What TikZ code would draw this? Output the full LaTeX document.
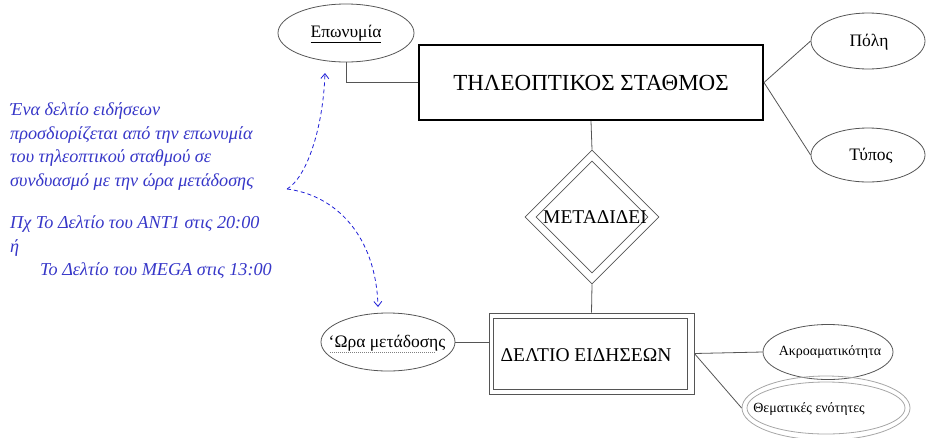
\documentclass[tikz,border=0pt]{standalone}
\usepackage{fontspec}
\setmainfont{Liberation Serif}
\usetikzlibrary{shapes.geometric,arrows.meta}
\definecolor{ln}{RGB}{85,85,85}
\definecolor{nb}{RGB}{55,55,200}
\definecolor{ab}{RGB}{30,30,215}
\begin{document}
\begin{tikzpicture}[x=1pt,y=-1pt,
  attr/.style={ellipse, draw=ln, line width=0.8pt, inner sep=0pt},
  big/.style={font=\fontsize{17.5}{19}\selectfont},
  small/.style={font=\fontsize{14}{16}\selectfont},
  conn/.style={draw=ln, line width=0.8pt},
  blu/.style={draw=ab, line width=0.8pt, dash pattern=on 4pt off 3pt, -{Straight Barb[length=5pt,width=8pt]}}]
\useasboundingbox (0,0) rectangle (931,437);

% entity: station
\node[draw=black, line width=2pt, minimum width=344pt, minimum height=75pt, inner sep=0pt,
      font=\fontsize{23}{27}\selectfont] (st) at (591,82.5) {ΤΗΛΕΟΠΤΙΚΟΣ ΣΤΑΘΜΟΣ};

% attributes of station
\node[attr, minimum width=136pt, minimum height=58pt] (ep) at (346,33) {};
\node[big, inner sep=0pt] (ept) at (346,34) {\underline{Επωνυμία}};
\node[attr, minimum width=114pt, minimum height=56pt] (po) at (868,41) {};
\node[big, inner sep=0pt] (pot) at (869,42) {Πόλη};
\node[attr, minimum width=114pt, minimum height=54pt] (ty) at (868,155) {};
\node[big, inner sep=0pt] (tyt) at (871,156) {Τύπος};

% relationship
\node[diamond, draw=ln, line width=0.8pt, minimum width=134pt, minimum height=134pt, inner sep=0pt] (md) at (592,217) {};
\node[diamond, draw=ln, line width=0.8pt, minimum width=112pt, minimum height=112pt, inner sep=0pt] (mi) at (592,217) {};
\node[font=\fontsize{19.5}{21}\selectfont, inner sep=0pt] (mt) at (595,217) {ΜΕΤΑΔΙΔΕΙ};

% weak entity
\node[draw=ln, line width=0.8pt, minimum width=205pt, minimum height=81pt, inner sep=0pt] (dl) at (591.5,353.5) {};
\draw[ln, line width=0.8pt] ([shift={(5,6)}]dl.north west) rectangle ([shift={(-7,-5)}]dl.south east);
\node[font=\fontsize{19.5}{21}\selectfont, inner sep=0pt] (dt) at (586,355) {ΔΕΛΤΙΟ ΕΙΔΗΣΕΩΝ};

% attributes of news bulletin
\node[attr, minimum width=134pt, minimum height=58pt] (wr) at (388,342) {};
\node[big, inner sep=0pt] (wrt) at (387,343) {‘Ωρα μετάδοσης};
\draw[gray, line width=0.6pt, dash pattern=on 0.8pt off 1.2pt] ([xshift=-58pt,yshift=-10pt]wr.center) -- ([xshift=47pt,yshift=-10pt]wr.center);
\node[attr, minimum width=130pt, minimum height=55pt] (ak) at (828,352) {};
\node[small, inner sep=0pt] (akt) at (830,352) {Ακροαματικότητα};
\node[attr, draw=gray!70, minimum width=168pt, minimum height=64pt] (th) at (826,408) {};
\draw[gray!70, line width=0.8pt] (th.center) ellipse [x radius=79, y radius=26];
\node[small, inner sep=0pt] (tt) at (809,409) {Θεματικές ενότητες};

% connectors
\draw[conn] (ep.south) |- (st.west);
\draw[conn] (st.east) -- (po.west);
\draw[conn] (st.east) -- (ty.west);
\draw[conn] (st.south) -- (md.north);
\draw[conn] (md.south) -- (dl.north);
\draw[conn] (wr.east) -- (wr.east -| dl.west);
\draw[conn] (dl.east) -- (ak.west);
\draw[conn] (dl.east) -- (th.west);

% note
\node[anchor=north west, align=left, text=nb, inner sep=0pt,
      font=\itshape\fontsize{18.2}{23.5}\selectfont] (nt) at (10,102.5)
  {Ένα δελτίο ειδήσεων\\
   προσδιορίζεται από την επωνυμία\\
   του τηλεοπτικού σταθμού σε\\
   συνδυασμό με την ώρα μετάδοσης\\[19pt]
   Πχ Το Δελτίο του ΑΝΤ1 στις 20:00\\
   ή\\
   \hspace*{30pt}Το Δελτίο του MEGA στις 13:00};

\coordinate (c0) at (287,189);
\coordinate (a1) at (325,73);
\coordinate (a2) at (378,307);
\draw[blu] (c0) .. controls (306,178) and (323,130) .. (a1);
\draw[blu] (c0) .. controls (335,195) and (376,235) .. (a2);
\end{tikzpicture}
\end{document}
